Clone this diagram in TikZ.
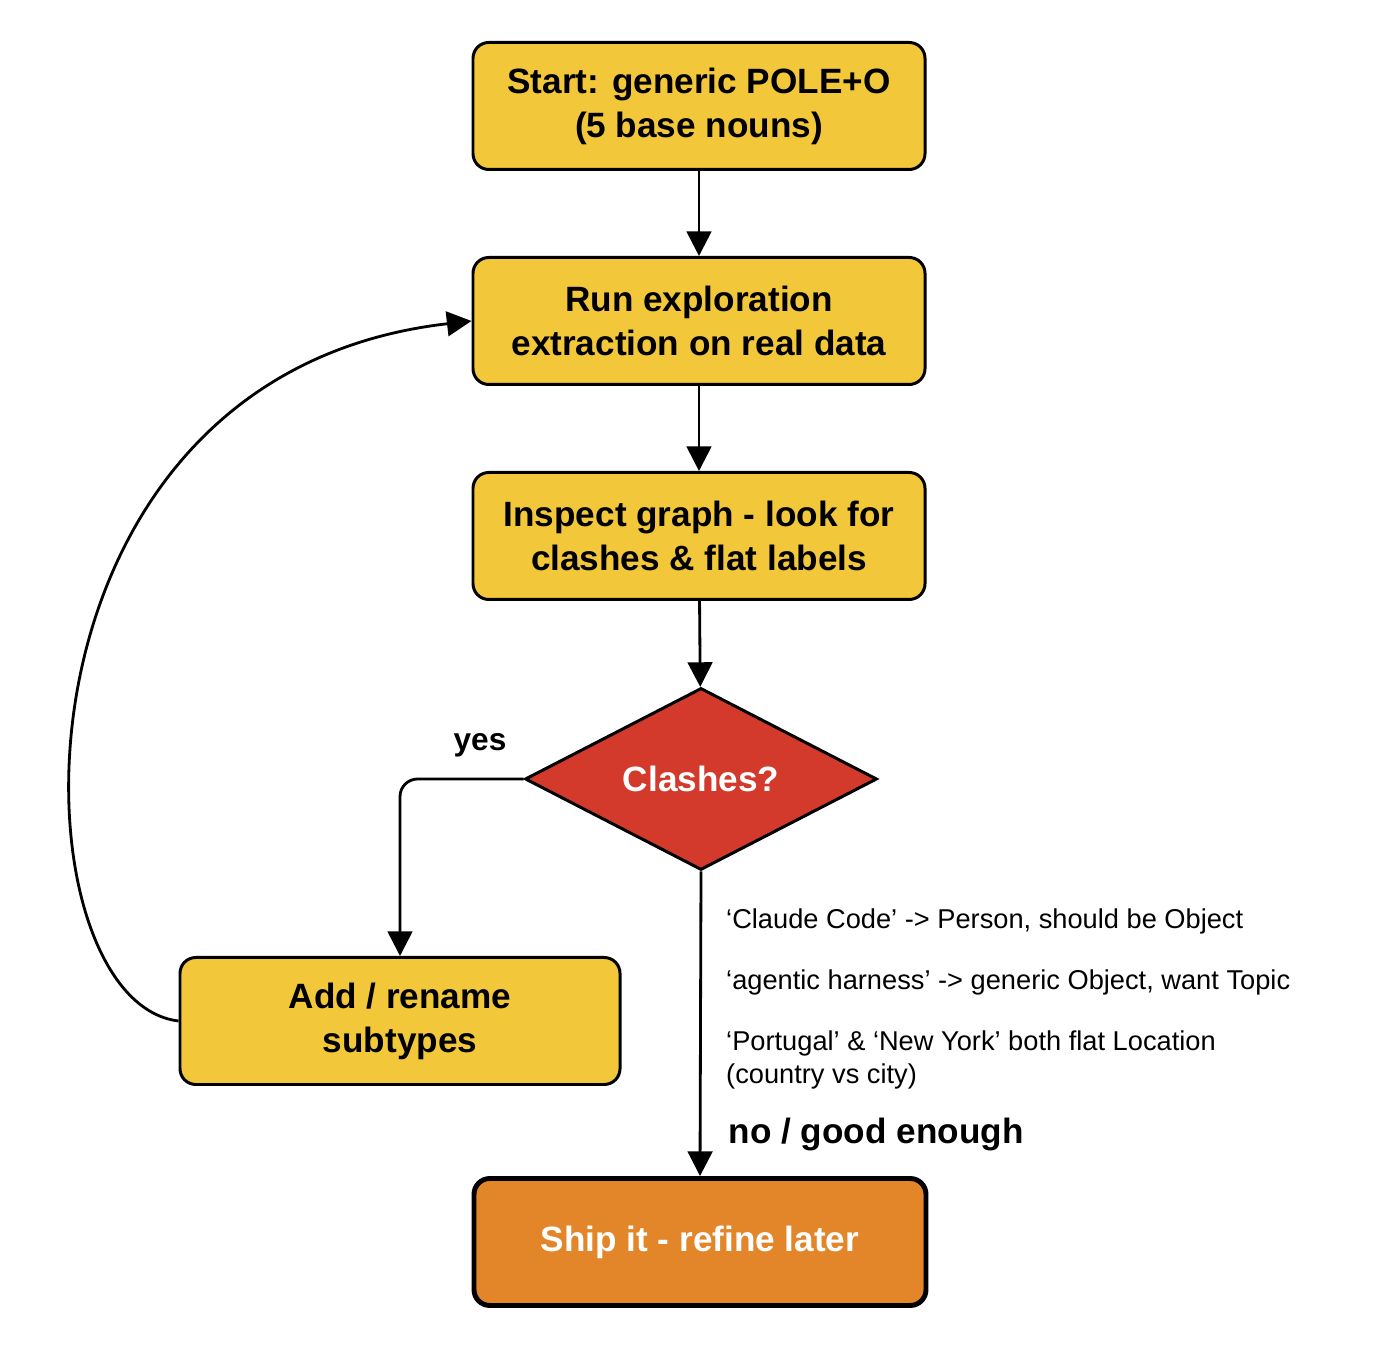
\documentclass[tikz,border=0pt]{standalone}
\usepackage{fontspec}
\setmainfont{Liberation Sans}
\usetikzlibrary{shapes.geometric,arrows.meta}
\definecolor{boxyellow}{HTML}{F2C73A}
\definecolor{shiporange}{HTML}{E3862A}
\definecolor{clashred}{HTML}{D33A2C}
\tikzset{
	stepbox/.style={draw=black, line width=1.7pt, rounded corners=9pt, fill=boxyellow,
		minimum width=9.04cm, minimum height=2.54cm, align=center,
		font=\fontsize{20}{25}\selectfont\bfseries},
	flow/.style={-{Triangle[length=14pt,width=14pt]}, line width=1.6pt},
	note/.style={anchor=west, align=left, font=\fontsize{15.5}{19}\selectfont}
}
\begin{document}
\begin{tikzpicture}
	\useasboundingbox (0,0) rectangle (28,27.02);

	\node[stepbox] (start) at (13.98, 24.9) {Start: generic POLE+O\\(5 base nouns)};
	\node[stepbox] (run) at (13.98, 20.6) {Run exploration\\extraction on real data};
	\node[stepbox] (inspect) at (13.98, 16.3) {Inspect graph - look for\\clashes \& flat labels};
	\node[diamond, draw=black, line width=1.7pt, fill=clashred, aspect=1.93,
		minimum width=7.04cm, minimum height=3.64cm, inner sep=0pt, text=white,
		font=\fontsize{20}{25}\selectfont\bfseries] (clash) at (14.02, 11.44) {Clashes?};
	\node[stepbox, minimum width=8.8cm] (add) at (8.0, 6.6) {Add / rename\\subtypes};
	\node[stepbox, fill=shiporange, text=white, line width=2.8pt] (ship) at (14, 2.18) {Ship it - refine later};

	\draw[flow] (start) -- (run);
	\draw[flow] (run) -- (inspect);
	\draw[flow] (inspect) -- (clash);
	\draw[flow, rounded corners=10pt] (clash.west) -| (add.north);
	\draw[flow] (clash.south) -- (ship.north);
	\draw[flow] (add.west) .. controls (0.2, 7.0) and (-0.2, 19.5) .. (run.west);

	% labels
	\node[font=\fontsize{18}{22}\selectfont\bfseries] (yes) at (9.6, 12.12) {yes};
	\node[note] (n1) at (14.4, 8.6) {‘Claude Code’ -> Person, should be Object};
	\node[note] (n2) at (14.4, 7.38) {‘agentic harness’ -> generic Object, want Topic};
	\node[note] (n3) at (14.4, 5.82) {‘Portugal’ \& ‘New York’ both flat Location\\(country vs city)};
	\node[note, font=\fontsize{20}{25}\selectfont\bfseries] (no) at (14.45, 4.34) {no / good enough};
\end{tikzpicture}
\end{document}
